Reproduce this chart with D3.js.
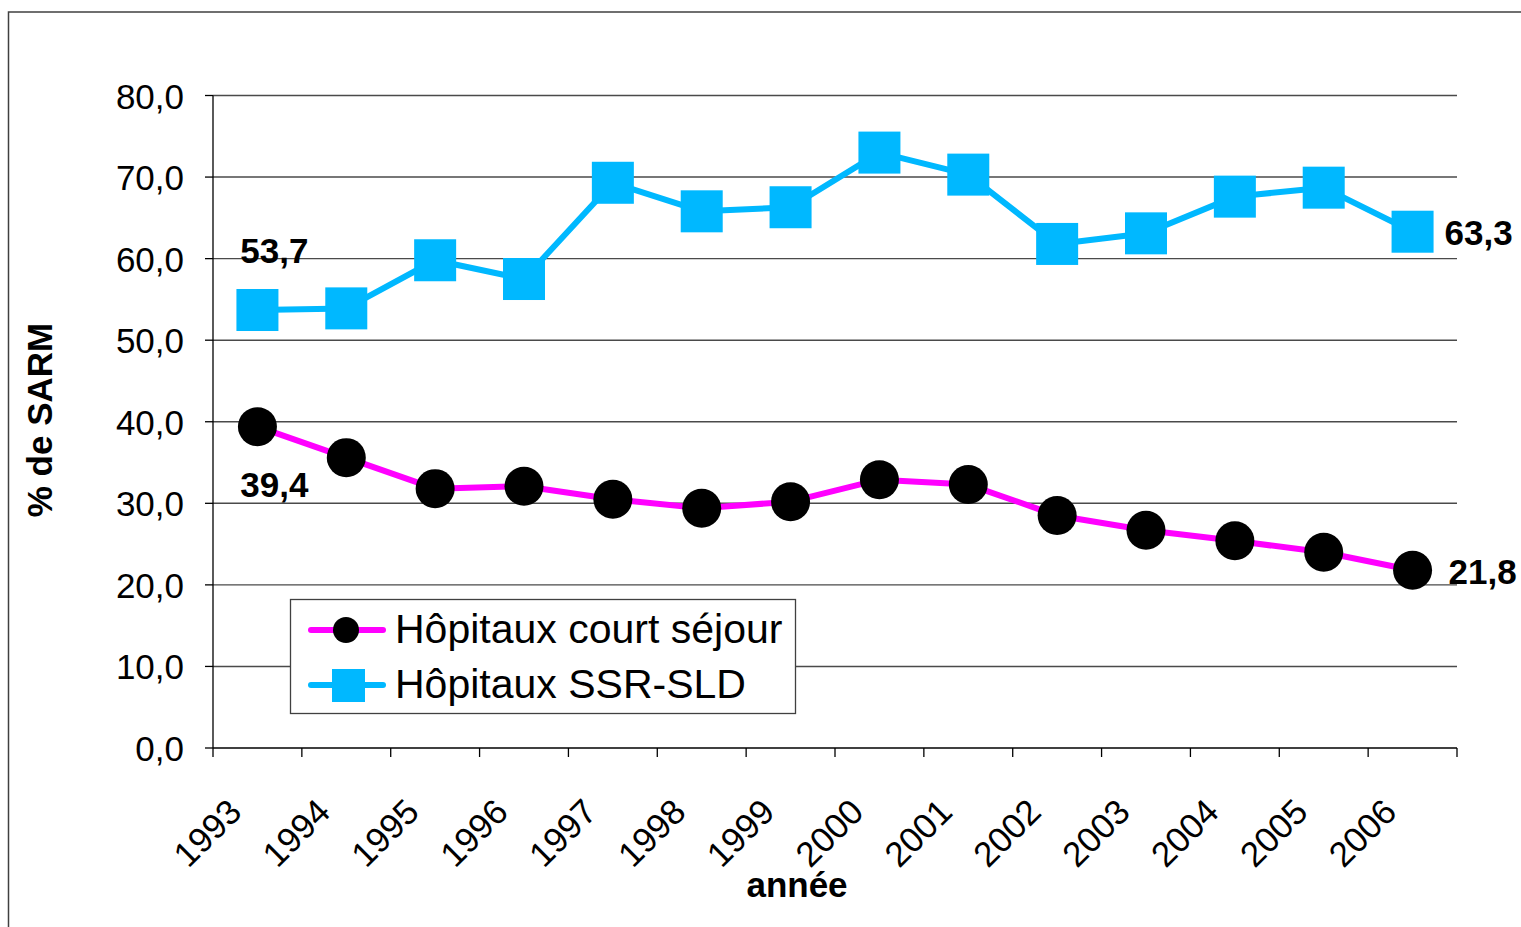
<!DOCTYPE html>
<html><head><meta charset="utf-8">
<script src="https://cdn.jsdelivr.net/npm/d3@7"></script>
<style>body{margin:0;background:#fff}svg{display:block}text{font-family:"Liberation Sans",Arial,sans-serif}</style>
</head><body><svg id="c" width="1521" height="927"></svg>
<script>
const years = ["1993","1994","1995","1996","1997","1998","1999","2000","2001","2002","2003","2004","2005","2006"];
const courtSejour = [39.4,35.6,31.8,32.1,30.5,29.4,30.2,32.9,32.3,28.5,26.7,25.4,24.0,21.8];
const ssrSld = [53.7,53.9,59.8,57.5,69.3,65.8,66.3,73.0,70.3,61.8,63.1,67.6,68.7,63.3];
const yTicks = [0,10,20,30,40,50,60,70,80];
const seriesNames = ["Hôpitaux court séjour","Hôpitaux SSR-SLD"];
const yTitle = "% de SARM";
const xTitle = "année";

const svg = d3.select("#c");
const L=213, R=1457, T=95.5, B=748;
const x = d3.scaleBand().domain(years).range([L,R]).padding(0);
const y = d3.scaleLinear().domain([0,80]).range([B,T]);
const cx = d => x(d)+x.bandwidth()/2;
const fmt = v => d3.format(".1f")(v).replace(".",",");

// outer frame
svg.append("rect").attr("x",8.5).attr("y",12).attr("width",1600).attr("height",1000)
  .attr("fill","none").attr("stroke","#404040").attr("stroke-width",1.5);

// gridlines
svg.append("g").selectAll("line").data(yTicks.filter(v=>v>0)).join("line")
  .attr("x1",L).attr("x2",R).attr("y1",d=>y(d)).attr("y2",d=>y(d))
  .attr("stroke","#4a4a4a").attr("stroke-width",1.4);

// y axis
svg.append("line").attr("x1",L).attr("x2",L).attr("y1",T).attr("y2",B).attr("stroke","#000").attr("stroke-width",1.3);
svg.append("g").selectAll("line").data(yTicks).join("line")
  .attr("x1",L-8).attr("x2",L).attr("y1",d=>y(d)).attr("y2",d=>y(d)).attr("stroke","#000").attr("stroke-width",1.3);
svg.append("g").selectAll("text").data(yTicks).join("text")
  .attr("x",184).attr("y",d=>y(d)+13).attr("text-anchor","end")
  .attr("font-size",35).attr("fill","#000").text(d=>fmt(d));

// x axis
svg.append("line").attr("x1",L).attr("x2",R).attr("y1",B).attr("y2",B).attr("stroke","#000").attr("stroke-width",1.3);
const bounds = years.map(d=>x(d)).concat([R]);
svg.append("g").selectAll("line").data(bounds).join("line")
  .attr("x1",d=>d).attr("x2",d=>d).attr("y1",B).attr("y2",B+9).attr("stroke","#000").attr("stroke-width",1.3);
svg.append("g").selectAll("text").data(years).join("text")
  .attr("transform",d=>`translate(${cx(d)-14},${B+66}) rotate(-45)`)
  .attr("text-anchor","end").attr("font-size",35).attr("fill","#000").text(d=>d);

// titles
svg.append("text").attr("x",797).attr("y",897).attr("text-anchor","middle")
  .attr("font-size",35).attr("font-weight","bold").text(xTitle);
svg.append("text").attr("transform","translate(52,420) rotate(-90)").attr("text-anchor","middle")
  .attr("font-size",35).attr("font-weight","bold").text(yTitle);

const line = d3.line().x((d,i)=>cx(years[i])).y(d=>y(d));
// SSR-SLD
svg.append("path").datum(ssrSld).attr("d",line).attr("fill","none").attr("stroke","#00b8ff").attr("stroke-width",6).attr("stroke-linejoin","round");
svg.append("g").selectAll("rect").data(ssrSld).join("rect")
  .attr("x",(d,i)=>cx(years[i])-21).attr("y",d=>y(d)-21).attr("width",42).attr("height",42).attr("fill","#00b8ff");
// court séjour
svg.append("path").datum(courtSejour).attr("d",line).attr("fill","none").attr("stroke","#ff00ff").attr("stroke-width",6).attr("stroke-linejoin","round");
svg.append("g").selectAll("circle").data(courtSejour).join("circle")
  .attr("cx",(d,i)=>cx(years[i])).attr("cy",d=>y(d)).attr("r",19.5).attr("fill","#000");

// data labels
const n = years.length-1;
const lab = (t,xx,yy,anchor)=>svg.append("text").attr("x",xx).attr("y",yy).attr("text-anchor",anchor)
  .attr("font-size",35).attr("font-weight","bold").attr("fill","#000").text(t);
lab(fmt(ssrSld[0]), cx(years[0])+17, y(ssrSld[0])-47, "middle");
lab(fmt(courtSejour[0]), cx(years[0])+17, y(courtSejour[0])+70, "middle");
lab(fmt(ssrSld[n]), cx(years[n])+32, y(ssrSld[n])+13, "start");
lab(fmt(courtSejour[n]), cx(years[n])+36, y(courtSejour[n])+14, "start");

// legend
const lg = svg.append("g");
lg.append("rect").attr("x",290.5).attr("y",599.5).attr("width",505).attr("height",114)
  .attr("fill","#fff").attr("stroke","#404040").attr("stroke-width",1.3);
const rows=[{y:630,c:"#ff00ff"},{y:685,c:"#00b8ff"}];
lg.selectAll("line").data(rows).join("line").attr("x1",311).attr("x2",383).attr("y1",d=>d.y).attr("y2",d=>d.y)
  .attr("stroke",d=>d.c).attr("stroke-width",6).attr("stroke-linecap","round");
lg.append("circle").attr("cx",346).attr("cy",630).attr("r",13).attr("fill","#000");
lg.append("rect").attr("x",332).attr("y",669).attr("width",33).attr("height",33).attr("fill","#00b8ff");
lg.selectAll("text").data(seriesNames).join("text").attr("x",395).attr("y",(d,i)=>[643,698][i])
  .attr("font-size",41).attr("fill","#000").text(d=>d);
</script></body></html>
